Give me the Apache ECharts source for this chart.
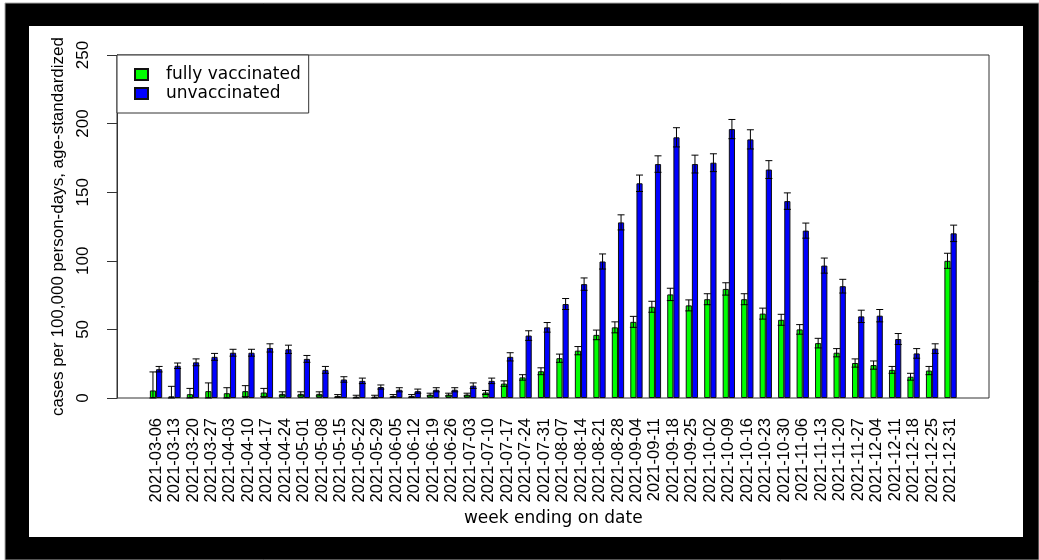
<!DOCTYPE html>
<html>
<head>
<meta charset="utf-8">
<script src="https://cdn.jsdelivr.net/npm/echarts@6/dist/echarts.min.js"></script>
<style>
  html, body { margin: 0; padding: 0; background: #fff; }
  #chart { width: 1039px; height: 560px; }
</style>
</head>
<body>
<div id="chart"></div>
<script>
// Weekly COVID-19 case rates by vaccination status, 2021
const weeks = [
  '2021-03-06','2021-03-13','2021-03-20','2021-03-27','2021-04-03','2021-04-10',
  '2021-04-17','2021-04-24','2021-05-01','2021-05-08','2021-05-15','2021-05-22',
  '2021-05-29','2021-06-05','2021-06-12','2021-06-19','2021-06-26','2021-07-03',
  '2021-07-10','2021-07-17','2021-07-24','2021-07-31','2021-08-07','2021-08-14',
  '2021-08-21','2021-08-28','2021-09-04','2021-09-11','2021-09-18','2021-09-25',
  '2021-10-02','2021-10-09','2021-10-16','2021-10-23','2021-10-30','2021-11-06',
  '2021-11-13','2021-11-20','2021-11-27','2021-12-04','2021-12-11','2021-12-18',
  '2021-12-25','2021-12-31'
];

// fully vaccinated: rate and confidence limits
const vaxRate = [5.5,1.2,2.8,5,3.5,5,4,3,3,3,1.5,1,1,1.5,1.5,2.5,2.5,2.5,4,10.5,15,19.5,29,34.5,
  46,51.5,55.5,66.5,75.5,67.5,72,79.5,72,61.5,57,50,40,33,25.5,24,20.5,15.5,20,100];
const vaxLow = [0,0,0,0,0,1,1,1.5,1.5,1.5,0.5,0,0,0.5,0.5,1.5,1.5,1.5,2.5,8.5,13,17,26,31.5,
  42.5,47.5,51.5,62.5,71,63.5,68,75,68,57.5,53,46.5,36.5,30,22.5,21,18,13,17,94.5];
const vaxHigh = [19,8.5,7,11,7.5,9,7,4.5,4.5,4.5,2.5,2,2,2.5,2.5,3.5,3.5,3.5,5.5,12.5,17,22,32,37.5,
  49.5,55.5,59.5,70.5,80,71.5,76,84,76,65.5,61,53.5,43.5,36,28.5,27,23,18,23,105.5];

// unvaccinated: rate and confidence limits
const unvaxRate = [21,23.5,26,30,33,33,36.5,35.5,28.5,20.5,13.5,12.5,8,6,5,6,6,9,12.5,30,45.5,51.5,68.5,83,
  99.5,128,156.5,170.5,190,170.5,171.5,196,188.5,166.5,143.5,122,96.5,81.5,59.5,60,43,32.5,36,120];
const unvaxLow = [19,21.5,23.5,27.5,30.5,30.5,33.5,32.5,26,18,11.5,10.5,6.5,4.5,3.5,4.5,4.5,7,10.5,27,42,48,64.5,78.5,
  94,122.5,150.5,164.5,183,164,165,189,181.5,160,137.5,116.5,91,76.5,55,55.5,39,29,32.5,114];
const unvaxHigh = [23,25.5,28.5,32.5,35.5,35.5,39.5,38.5,31,23,15.5,14.5,9.5,7.5,6.5,7.5,7.5,11,14.5,33,49,55,72.5,87.5,
  105,133.5,162.5,176.5,197,177,178,203,195.5,173,149.5,127.5,102,86.5,64,64.5,47,36,39.5,126];

const yTicks = { min: 0, max: 250, interval: 50 };

const SERIES_VAX = 'fully vaccinated';
const SERIES_UNVAX = 'unvaccinated';

// Error whiskers with caps; side = -1 for the left bar of a pair, +1 for the right one
function whiskers(side) {
  return function (params, api) {
    const idx = api.value(0);
    const lo = api.coord([idx, api.value(1)]);
    const hi = api.coord([idx, api.value(2)]);
    const band = api.size([1, 0])[0];
    const x = lo[0] + side * band / 6;
    const cap = 3.5;
    const style = { stroke: '#000', lineWidth: 1 };
    return {
      type: 'group',
      children: [
        { type: 'line', shape: { x1: x, y1: lo[1], x2: x, y2: hi[1] }, style },
        { type: 'line', shape: { x1: x - cap, y1: hi[1], x2: x + cap, y2: hi[1] }, style },
        { type: 'line', shape: { x1: x - cap, y1: lo[1], x2: x + cap, y2: lo[1] }, style }
      ]
    };
  };
}

const toRanges = (low, high) => low.map((v, i) => [i, v, high[i]]);

const chart = echarts.init(document.getElementById('chart'), null, { renderer: 'canvas' });

chart.setOption({
  animation: false,
  backgroundColor: '#fff',
  graphic: [
    { type: 'rect', z: -10, shape: { x: 5, y: 3, width: 1034, height: 557 },
      style: { fill: '#000', stroke: '#aaa', lineWidth: 1 } },
    { type: 'rect', z: -9, shape: { x: 29, y: 26, width: 994, height: 511 },
      style: { fill: '#fff' } }
  ],
  legend: {
    data: [SERIES_VAX, SERIES_UNVAX],
    orient: 'vertical',
    left: 117,
    top: 55,
    icon: 'rect',
    itemWidth: 13,
    itemHeight: 11,
    itemGap: 0,
    padding: [10, 8, 10, 17],
    borderColor: '#333',
    borderWidth: 1,
    backgroundColor: '#fff',
    textStyle: {
      fontFamily: 'DejaVu Sans',
      fontSize: 17,
      color: '#000',
      lineHeight: 19,
      padding: [0, 0, 0, 13]
    }
  },
  grid: [
    { left: 117, top: 55, width: 872, height: 343, show: true,
      borderColor: '#333', borderWidth: 1, backgroundColor: 'transparent' },
    { left: 146.8, top: 55, width: 813, height: 343 }
  ],
  xAxis: [
    { gridIndex: 0, type: 'value', min: 0, max: 1, show: false },
    {
      gridIndex: 1,
      type: 'category',
      data: weeks,
      axisLine: { show: false },
      axisTick: { show: false },
      axisLabel: {
        interval: 0,
        rotate: 90,
        margin: 20,
        fontFamily: 'Liberation Sans',
        fontSize: 16.5,
        color: '#000'
      },
      name: 'week ending on date',
      nameLocation: 'middle',
      nameGap: 110,
      nameTextStyle: { fontFamily: 'DejaVu Sans', fontSize: 17, color: '#000' }
    }
  ],
  yAxis: [
    {
      gridIndex: 0,
      type: 'value',
      min: yTicks.min,
      max: yTicks.max,
      interval: yTicks.interval,
      axisLine: { show: true, lineStyle: { color: '#333', width: 1 } },
      axisTick: { show: true, length: 10, lineStyle: { color: '#333', width: 1 } },
      splitLine: { show: false },
      axisLabel: {
        rotate: 90,
        margin: 25,
        fontFamily: 'Liberation Sans',
        fontSize: 17,
        color: '#000'
      },
      name: 'cases per 100,000 person-days, age-standardized',
      nameLocation: 'middle',
      nameGap: 43,
      nameTextStyle: { fontFamily: 'Liberation Sans', fontSize: 17, color: '#000' }
    },
    { gridIndex: 1, type: 'value', min: yTicks.min, max: yTicks.max, show: false }
  ],
  series: [
    {
      name: SERIES_VAX,
      type: 'bar',
      xAxisIndex: 1,
      yAxisIndex: 1,
      data: vaxRate,
      barWidth: '33.33%',
      barGap: '0%',
      itemStyle: { color: '#00ff00', borderColor: '#111', borderWidth: 1 }
    },
    {
      name: SERIES_UNVAX,
      type: 'bar',
      xAxisIndex: 1,
      yAxisIndex: 1,
      data: unvaxRate,
      barWidth: '33.33%',
      barGap: '0%',
      itemStyle: { color: '#0000ff', borderColor: '#111', borderWidth: 1 }
    },
    {
      name: 'vax-ci',
      type: 'custom',
      xAxisIndex: 1,
      yAxisIndex: 1,
      z: 5,
      renderItem: whiskers(-1),
      encode: { x: 0, y: [1, 2] },
      data: toRanges(vaxLow, vaxHigh)
    },
    {
      name: 'unvax-ci',
      type: 'custom',
      xAxisIndex: 1,
      yAxisIndex: 1,
      z: 5,
      renderItem: whiskers(1),
      encode: { x: 0, y: [1, 2] },
      data: toRanges(unvaxLow, unvaxHigh)
    }
  ]
});
</script>
</body>
</html>
